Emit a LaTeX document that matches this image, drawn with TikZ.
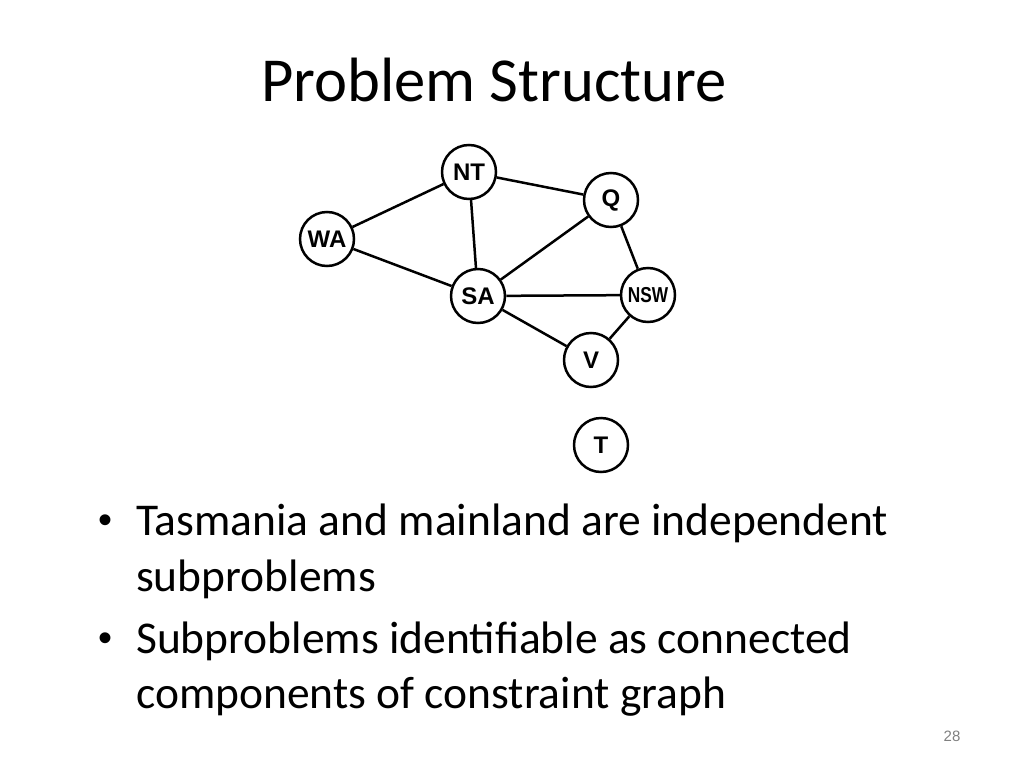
\documentclass[tikz,border=0pt]{standalone}
\usepackage{fontspec}
\setmainfont{Carlito}
\newfontfamily\nodefont{Liberation Sans}
\begin{document}
\begin{tikzpicture}[x=1pt,y=-1pt,
  vtx/.style={circle,draw,line width=2.5pt,minimum size=54pt,inner sep=0pt,font=\nodefont\bfseries\fontsize{24}{26}\selectfont},
  edge/.style={line width=2.5pt},
  body/.style={anchor=base west,inner sep=0pt,font=\fontsize{45.5}{50}\selectfont},
  bul/.style={anchor=base,inner sep=0pt,font=\nodefont\fontsize{40}{44}\selectfont}]
\useasboundingbox (0,0) rectangle (1024,768);
\fill[white] (0,0) rectangle (1024,768);
\node[anchor=base,inner sep=0pt,font=\fontsize{62.6}{70}\selectfont] (title) at (494,101) {Problem Structure};
\node[vtx] (NT) at (469,172) {NT};
\node[vtx] (Q) at (611,200) {Q};
\node[vtx] (WA) at (327,239) {WA};
\node[vtx] (SA) at (478,296) {SA};
\node[vtx] (NSW) at (648,295) {\scalebox{0.72}[0.9]{NSW}};
\node[vtx] (V) at (591,360) {V};
\node[vtx] (T) at (601,445) {T};
\draw[edge] (NT) -- (WA);
\draw[edge] (NT) -- (Q);
\draw[edge] (NT) -- (SA);
\draw[edge] (WA) -- (SA);
\draw[edge] (SA) -- (Q);
\draw[edge] (SA) -- (NSW);
\draw[edge] (SA) -- (V);
\draw[edge] (Q) -- (NSW);
\draw[edge] (NSW) -- (V);
\node[bul] (b1) at (106,533) {•};
\node[body] (l1) at (136,535) {Tasmania and mainland are independent};
\node[body] (l2) at (136,591) {subproblems};
\node[bul] (b2) at (106,651) {•};
\node[body] (l3) at (136,653) {Subproblems identifiable as connected};
\node[body] (l4) at (136,708) {components of constraint graph};
\node[anchor=base,inner sep=0pt,text=gray,font=\nodefont\fontsize{15}{17}\selectfont] (pg) at (952,741) {28};
\end{tikzpicture}
\end{document}
